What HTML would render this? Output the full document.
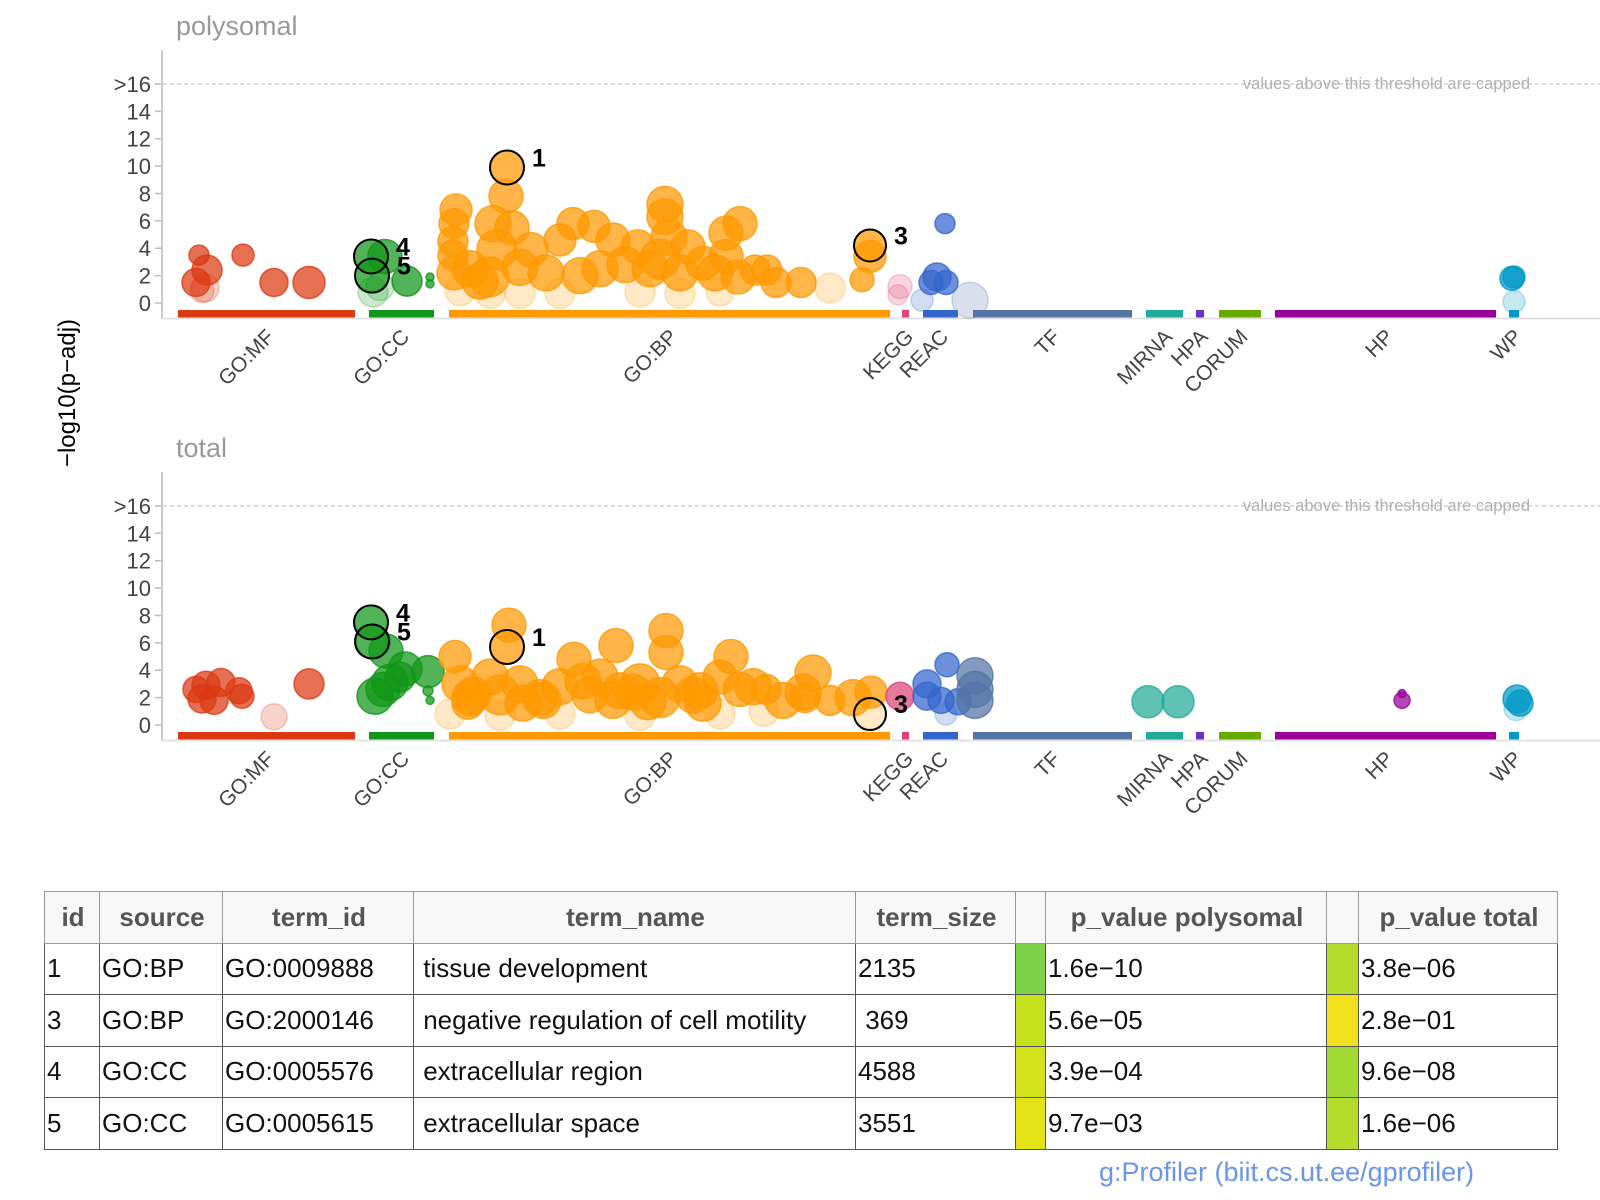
<!DOCTYPE html>
<html><head><meta charset="utf-8">
<style>
html,body{margin:0;padding:0;background:#fff;width:1600px;height:1200px;overflow:hidden;font-family:"Liberation Sans",sans-serif;}
#chart{position:absolute;left:0;top:0;}
table{position:absolute;left:44px;top:891px;border-collapse:collapse;font-family:"Liberation Sans",sans-serif;font-size:26px;table-layout:fixed;border:1px solid #aaa;}
td,th{border:1px solid #555;padding:0 0 0 2px;white-space:nowrap;overflow:hidden;}
th{height:50.5px;background:#f8f8f8;color:#555;font-weight:bold;text-align:center;border-color:#999;}
td{height:50.5px;color:#111;}
.cap{position:absolute;left:1099px;top:1157px;font-size:27px;color:#6a95e8;font-family:"Liberation Sans",sans-serif;}
</style></head><body>
<svg id="chart" width="1600" height="890" xmlns="http://www.w3.org/2000/svg"></svg>

<table>
<colgroup><col style="width:55px"><col style="width:123px"><col style="width:191px"><col style="width:442px"><col style="width:160px"><col style="width:30px"><col style="width:281px"><col style="width:32px"><col style="width:199px"></colgroup>
<tr><th>id</th><th>source</th><th>term_id</th><th>term_name</th><th>term_size</th><th></th><th>p_value polysomal</th><th></th><th>p_value total</th></tr>
<tr><td>1</td><td>GO:BP</td><td>GO:0009888</td><td>&nbsp;tissue development</td><td>2135</td><td style="background:#7ed24a"></td><td>1.6e−10</td><td style="background:#b5dc2a"></td><td>3.8e−06</td></tr>
<tr><td>3</td><td>GO:BP</td><td>GO:2000146</td><td>&nbsp;negative regulation of cell motility</td><td>&nbsp;369</td><td style="background:#c5e01e"></td><td>5.6e−05</td><td style="background:#f2e01c"></td><td>2.8e−01</td></tr>
<tr><td>4</td><td>GO:CC</td><td>GO:0005576</td><td>&nbsp;extracellular region</td><td>4588</td><td style="background:#d2e11a"></td><td>3.9e−04</td><td style="background:#a3d933"></td><td>9.6e−08</td></tr>
<tr><td>5</td><td>GO:CC</td><td>GO:0005615</td><td>&nbsp;extracellular space</td><td>3551</td><td style="background:#e3e316"></td><td>9.7e−03</td><td style="background:#b5dc2a"></td><td>1.6e−06</td></tr>
</table>
<div class="cap">g:Profiler (biit.cs.ut.ee/gprofiler)</div>

<script>
// ---- data ----
const categories = ["GO:MF","GO:CC","GO:BP","KEGG","REAC","TF","MIRNA","HPA","CORUM","HP","WP"];
const catColors = ["#dc3912","#109618","#ff9900","#dd4477","#3366cc","#5574a6","#22aa99","#6633cc","#66aa00","#990099","#0099c6"];
const catStart = [15,206,286,739,760,810,983,1033,1056,1112,1346];
const catEnd   = [192,271,727,746,795,969,1020,1041,1098,1333,1356];
const yTicks = [0,2,4,6,8,10,12,14,16];
const yTickLabels = ["0","2","4","6","8","10","12","14",">16"];

// polysomal panel: category index, term position, -log10 p, size, significant
const polyCat = [0,0,0,0,0,0,0,0, 1,1,1,1,1,1,1,1,
 2,2,2,2,2,2,2,2,2,2, 2,2,2,2,2,2,2,2,2,2, 2,2,2,2,2,2,2,2,2,2, 2,2,2,2,2,2,2,2,2,2, 2,2,2,2,2,2,2,2,2,2, 2,2,
 3,3, 4,4,4,4,4, 5, 10,10,10];
const polyX = [36,44,33,42,80,111,146,39, 222,244,210,217,267,267,208,209,
 293,291,290,290,291,330,343,349,334,326, 307,317,357,368,383,397,410,431,450,437, 417,462,475,487,502,502,506,497,517,525, 540,563,577,563,575,552,592,604,613,638, 667,707,699,297,327,397,477,517,357,557, 344,707,
 737,735, 782,774,768,783,759, 807, 1349,1351,1351];
const polyVal = [3.5,2.4,1.5,1.1,3.5,1.5,1.5,0.9, 3.4,1.6,0.8,1.2,1.9,1.4,3.4,2.0,
 6.8,5.8,4.5,3.5,2.2,5.8,7.8,5.5,3.9,1.9, 2.5,1.6,2.6,3.9,2.2,4.6,5.8,5.6,4.6,2.5, 2.0,2.8,4.1,2.5,7.2,6.3,4.8,3.2,2.2,4.1, 2.9,5.1,5.8,3.4,1.9,2.2,2.4,2.4,1.5,1.5, 1.1,3.4,1.7,0.9,0.7,0.7,0.8,0.7,0.7,0.8, 9.9,4.2,
 1.2,0.6, 5.8,1.9,1.5,1.5,0.2, 0.2, 1.8,1.9,0.1];
const polySize = [10,15,14,14,11,14,16,12, 17,15,15,14,4,4,17,17,
 16,15,15,15,17,18,17,17,20,20, 18,18,18,17,18,16,16,16,17,18, 18,18,17,18,18,18,18,20,18,17, 17,17,17,17,17,18,15,15,15,15, 15,16,12,15,15,15,15,15,15,14, 17,16,
 12,10, 10,14,12,12,11, 18, 12,11,11];
const polySig = [1,1,1,0,1,1,1,0, 1,1,0,0,1,1,1,1,
 1,1,1,1,1,1,1,1,1,1, 1,1,1,1,1,1,1,1,1,1, 1,1,1,1,1,1,1,1,1,1, 1,1,1,1,1,1,1,1,1,1, 0,1,1,0,0,0,0,0,0,0, 1,1,
 0,0, 1,1,1,1,0, 0, 1,1,0];

// total panel
const totalCat = [0,0,0,0,0,0,0,0,0, 1,1,1,1,1,1,1,1,1,1,1,
 2,2,2,2,2,2,2,2,2,2, 2,2,2,2,2,2,2,2,2,2, 2,2,2,2,2,2,2,2,2,2, 2,2,2,2,2,2,2,2,2,2, 2,2,2,2,2,2,2,2,2,2,
 3, 4,4,4,4,4,4, 5,5,5, 6,6, 9,9, 10,10,10];
const totalX = [43,39,58,76,79,51,33,146,111, 208,210,223,242,265,212,227,220,237,265,267,
 346,292,411,453,503,503,568,344,297,307, 327,337,357,377,397,427,437,457,477,497, 517,537,557,577,603,642,667,708,708,287, 337,397,477,557,601,310,380,450,530,620, 690,650,420,470,590,540,485,360,640,305,
 737, 784,764,764,778,795,783, 812,812,812, 985,1015, 1239,1239, 1354,1357,1353];
const totalVal = [2.9,1.9,3.1,2.5,2.1,1.8,2.6,3.0,0.6, 7.5,6.1,5.4,4.1,3.9,2.1,3.1,2.6,3.5,2.5,1.8,
 7.3,5.0,4.8,5.8,6.9,5.3,5.0,5.7,3.0,2.0, 3.5,2.2,3.0,2.0,2.8,2.2,3.5,2.5,3.0,2.0, 3.0,2.5,3.5,2.6,2.6,2.0,1.8,2.4,0.8,0.8, 0.7,0.8,0.7,0.8,1.0,2.2,1.8,1.8,2.2,1.8, 2.0,3.8,3.2,2.4,2.8,1.6,1.7,1.6,2.4,1.6,
 2.1, 4.4,3.0,2.1,1.8,1.7,0.8, 3.6,2.6,1.8, 1.7,1.7, 1.8,2.3, 1.9,1.6,1.2];
const totalSize = [14,14,14,13,12,14,13,15,13, 17,17,17,17,16,18,18,17,15,5,4,
 17,16,17,17,17,17,17,17,18,18, 18,20,18,18,18,18,18,18,20,20, 18,18,17,17,15,15,15,16,15,15, 15,15,15,15,15,18,18,18,18,18, 18,18,18,18,18,18,18,18,18,16,
 14, 12,14,14,13,13,11, 18,18,18, 16,16, 8,4, 14,13,12];
const totalSig = [1,1,1,1,1,1,1,1,0, 1,1,1,1,1,1,1,1,1,1,1,
 1,1,1,1,1,1,1,1,1,1, 1,1,1,1,1,1,1,1,1,1, 1,1,1,1,1,1,1,1,0,0, 0,0,0,0,0,1,1,1,1,1, 1,1,1,1,1,1,1,1,1,1,
 1, 1,1,1,1,1,0, 1,1,1, 1,1, 1,1, 1,1,0];

// highlighted terms
const hlIds = ["1","3","4","5"];
const hlX = [344,707,208,209];
const hlPolyVal = [9.9,4.2,3.4,2.0];
const hlTotalVal = [5.7,0.8,7.5,6.1];
const hlSize = [17,16,17,17];

// ---- drawing ----
const NS = "http://www.w3.org/2000/svg";
const svg = document.getElementById("chart");
function mk(tag, attrs, parent){
  const e = document.createElementNS(NS, tag);
  for (const k in attrs) e.setAttribute(k, attrs[k]);
  (parent||svg).appendChild(e);
  return e;
}
const xScale = v => 163 + v;
const unit = 13.69;

function panel(name, offY, cats, xs, vals, sizes, sigs, hlVals){
  const base = 303 + offY;
  const yScale = v => base - v*unit;
  const g = mk("g", {});
  
  

  const title = mk("text", {x:176, y:35+offY, "font-size":27, fill:"#999"}, g);
  title.textContent = name;
  
  

  const ya = mk("line", {x1:162, x2:162, y1:50+offY, y2:319+offY, stroke:"#ccc", "stroke-width":2}, g);
  
  
  const xa = mk("line", {x1:161, x2:1600, y1:318.5+offY, y2:318.5+offY, stroke:"#ddd", "stroke-width":1.5}, g);
  
  

  yTicks.forEach((t,i)=>{
    const y = yScale(t);
    const tk = mk("line", {x1:155, x2:161, y1:y, y2:y, stroke:"#bbb", "stroke-width":1.5}, g);
    
    
    const lb = mk("text", {x:151, y:y+8, "text-anchor":"end", "font-size":22, fill:"#444"}, g);
    lb.textContent = yTickLabels[i];
    
    
  });

  const ty = yScale(16);
  const th = mk("line", {x1:163, x2:1600, y1:ty, y2:ty, stroke:"#ccc", "stroke-width":1.3, "stroke-dasharray":"4,3"}, g);
  
  
  const tt = mk("text", {x:1530, y:ty+5, "text-anchor":"end", "font-size":16.5, fill:"#b0b0b0"}, g);
  tt.textContent = "values above this threshold are capped";
  
  

  categories.forEach((c,i)=>{
    const x0 = xScale(catStart[i]), x1 = xScale(catEnd[i]);
    const r = mk("rect", {x:x0, y:310+offY, width:x1-x0, height:7.5, fill:catColors[i]}, g);
    
    
    const cx = (x0+x1)/2 + 9, cy = 338+offY;
    const t = mk("text", {x:cx, y:cy, "text-anchor":"end", "font-size":21, fill:"#444", transform:`rotate(-45 ${cx} ${cy})`}, g);
    t.textContent = c;
    
    
  });

  const order = [...xs.keys()].sort((a,b)=>sigs[a]-sigs[b]);
  order.forEach(i=>{
    const col = catColors[cats[i]];
    const p = mk("circle", {cx:xScale(xs[i]), cy:yScale(vals[i]), r:sizes[i], fill:col,
      "fill-opacity": sigs[i] ? 0.72 : 0.22, stroke:col, "stroke-opacity": sigs[i]?0.8:0.25, "stroke-width":1.5}, g);
    
    
  });

  hlIds.forEach((id,i)=>{
    const cx = xScale(hlX[i]), cy = yScale(hlVals[i]);
    const c = mk("circle", {cx:cx, cy:cy, r:hlSize[i], fill:"none", stroke:"#000", "stroke-width":2}, g);
    
    
    const t = mk("text", {x:cx+hlSize[i]+8, y:cy-1, "font-size":25, "font-weight":"bold", fill:"#000"}, g);
    t.textContent = id;
    
    
  });
}

panel("polysomal", 0, polyCat, polyX, polyVal, polySize, polySig, hlPolyVal);
panel("total", 422, totalCat, totalX, totalVal, totalSize, totalSig, hlTotalVal);

const yt = mk("text", {x:75, y:393, "text-anchor":"middle", "font-size":24, fill:"#000", transform:"rotate(-90 75 393)"});
yt.textContent = "−log10(p−adj)";


</script>
</body></html>
